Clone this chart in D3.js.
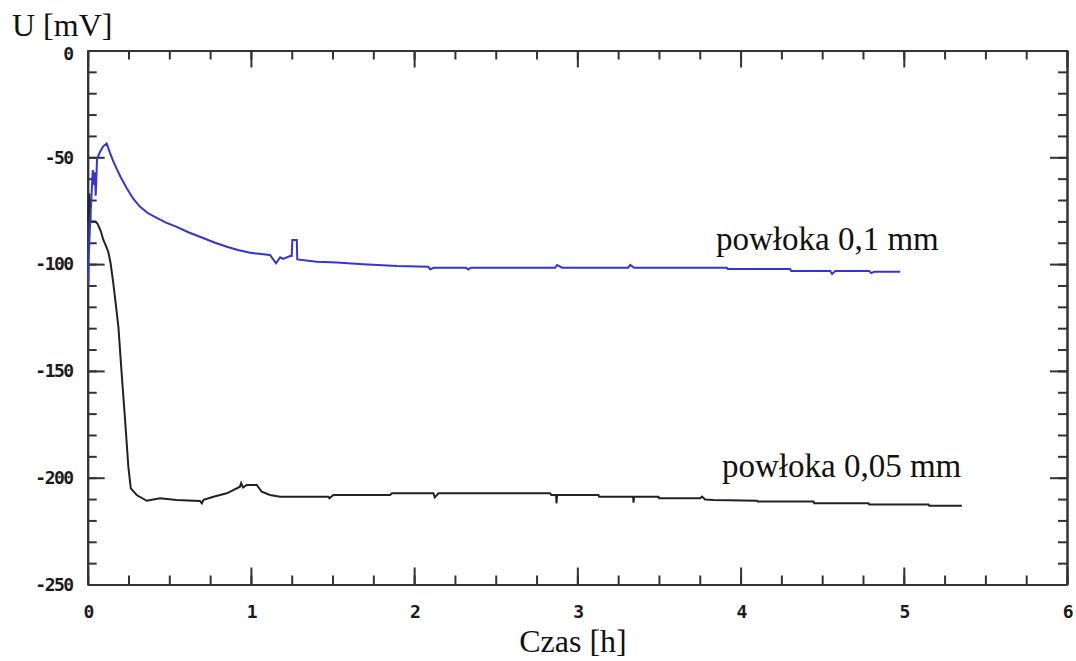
<!DOCTYPE html>
<html>
<head>
<meta charset="utf-8">
<script src="https://cdn.jsdelivr.net/npm/d3@7"></script>
<style>
    body { margin: 0; background: #fff; }
    .tick text { font-family: "DejaVu Sans Mono", monospace; font-weight: bold; font-size: 18px; letter-spacing: -1.5px; fill: #1a1a1a; }
    .axis path, .axis line { stroke: #333; stroke-width: 2px; }
    .title { font-family: "Liberation Serif", "Times New Roman", serif; font-size: 32px; fill: #111; }
</style>
</head>
<body>
<script>
// powłoka 0,1 mm : [czas h, U mV]
var coat01 = [
    [0.002, -103], [0.004, -109], [0.006, -97], [0.014, -82], [0.031, -56], [0.040, -63],
    [0.045, -57], [0.049, -68], [0.057, -51], [0.072, -48], [0.094, -45], [0.116, -43.5],
    [0.137, -48], [0.160, -52.5], [0.200, -59], [0.239, -64.5], [0.280, -69.5], [0.321, -73.2],
    [0.370, -76.2], [0.423, -78.4], [0.480, -80.6], [0.545, -82.6], [0.620, -85.2],
    [0.707, -87.8], [0.780, -90], [0.852, -91.9], [0.920, -93.4], [0.995, -94.7], [1.117, -95.7],
    [1.154, -99.6], [1.179, -96.8],
    [1.197, -97.6], [1.240, -96.2], [1.250, -96.2], [1.254, -88.7], [1.281, -88.7], [1.284, -97.8],
    [1.403, -98.9], [1.526, -99.3], [1.687, -100.1], [1.894, -100.9], [2.086, -101.2], [2.098, -102.4],
    [2.122, -101.7], [2.318, -101.7], [2.331, -102.5], [2.349, -101.7], [2.864, -101.7], [2.876, -100.4],
    [2.907, -101.7], [3.311, -101.7], [3.324, -100.4], [3.348, -101.7], [3.916, -101.7], [3.921, -102.3],
    [4.304, -102.3], [4.310, -103.2], [4.549, -103.2], [4.561, -104.6], [4.580, -103.2], [4.788, -103.2],
    [4.800, -104.2], [4.819, -103.6], [4.978, -103.6]
];

// powłoka 0,05 mm
var coat005 = [
    [0.003, -80], [0.010, -67], [0.017, -80], [0.045, -80], [0.060, -81], [0.080, -84.5],
    [0.096, -88.7], [0.112, -91.5], [0.126, -94.2], [0.140, -99.5],
    [0.157, -109], [0.188, -129.3], [0.208, -151.1], [0.229, -173], [0.249, -194.8], [0.264, -205],
    [0.300, -208.1], [0.362, -210.8], [0.443, -209.6], [0.545, -210.4], [0.688, -210.9], [0.699, -212],
    [0.710, -210.4], [0.770, -208.9], [0.852, -207.3], [0.933, -204.2], [0.940, -202.5], [0.952, -204.6],
    [0.974, -203.4], [1.036, -203.4], [1.066, -206.6], [1.117, -208.1], [1.179, -208.9], [1.475, -208.9],
    [1.481, -209.6], [1.505, -208.1], [1.853, -208.1], [1.863, -207.3], [2.118, -207.3], [2.127, -209.2],
    [2.149, -207.3], [2.833, -207.3], [2.840, -208.1], [2.870, -208.1], [2.872, -212], [2.876, -208.1],
    [3.129, -208.1], [3.133, -208.9], [3.342, -208.9], [3.344, -211.7], [3.348, -208.9], [3.497, -208.9],
    [3.501, -209.6], [3.752, -209.6], [3.764, -208.8], [3.783, -210.2], [3.834, -210.4], [4.100, -210.8],
    [4.105, -211.2], [4.447, -211.2], [4.451, -212], [4.784, -212], [4.788, -212.5], [5.152, -212.5],
    [5.156, -213.1], [5.356, -213.1]
];

var xMajor = [0, 1, 2, 3, 4, 5, 6];
var yMajor = [0, -50, -100, -150, -200, -250];
var xMinor = d3.range(0, 6.01, 0.25);
var yMinor = d3.range(0, -250.1, -10);
var seriesNames = ["powłoka 0,1 mm", "powłoka 0,05 mm"];

var width = 1076;
var height = 661;
var margin = { top: 50.5, right: 9, bottom: 76.5, left: 87.7 };

var svg = d3.select("body").append("svg")
    .attr("width", width)
    .attr("height", height);

var x = d3.scaleLinear().domain([0, 6]).range([margin.left, width - margin.right]);
var y = d3.scaleLinear().domain([-250, 0]).range([height - margin.bottom, margin.top]);

var noLabel = function() { return ""; };
var plain = function(d) { return String(d); };

// 短い目盛り（四辺すべて内向き）
svg.append("g").attr("class", "axis")
    .attr("transform", "translate(0," + y(-250) + ")")
    .call(d3.axisBottom(x).tickValues(xMinor).tickSize(-9).tickSizeOuter(0).tickFormat(noLabel));
svg.append("g").attr("class", "axis")
    .attr("transform", "translate(0," + y(0) + ")")
    .call(d3.axisTop(x).tickValues(xMinor).tickSize(-9).tickSizeOuter(0).tickFormat(noLabel));
svg.append("g").attr("class", "axis")
    .attr("transform", "translate(" + x(0) + ",0)")
    .call(d3.axisLeft(y).tickValues(yMinor).tickSize(-9).tickSizeOuter(0).tickFormat(noLabel));
svg.append("g").attr("class", "axis")
    .attr("transform", "translate(" + x(6) + ",0)")
    .call(d3.axisRight(y).tickValues(yMinor).tickSize(-9).tickSizeOuter(0).tickFormat(noLabel));

// 長い目盛りとラベル
svg.append("g").attr("class", "axis")
    .attr("transform", "translate(0," + y(-250) + ")")
    .call(d3.axisBottom(x).tickValues(xMajor).tickSize(-17).tickSizeOuter(0).tickPadding(21).tickFormat(plain));
svg.append("g").attr("class", "axis")
    .attr("transform", "translate(0," + y(0) + ")")
    .call(d3.axisTop(x).tickValues(xMajor).tickSize(-17).tickSizeOuter(0).tickFormat(noLabel));
var yAxisG = svg.append("g").attr("class", "axis")
    .attr("transform", "translate(" + x(0) + ",0)")
    .call(d3.axisLeft(y).tickValues(yMajor).tickSize(-17).tickSizeOuter(0).tickPadding(15).tickFormat(plain));
svg.append("g").attr("class", "axis")
    .attr("transform", "translate(" + x(6) + ",0)")
    .call(d3.axisRight(y).tickValues(yMajor).tickSize(-17).tickSizeOuter(0).tickFormat(noLabel));

// 0 のラベルは少し下げる
yAxisG.selectAll(".tick text").filter(function(d) { return d === 0; }).attr("dy", "0.5em");

var line = d3.line()
    .x(function(d) { return x(d[0]); })
    .y(function(d) { return y(d[1]); });

svg.append("path")
    .datum(coat005)
    .attr("d", line)
    .style("fill", "none")
    .style("stroke", "#222")
    .style("stroke-width", "2px");

svg.append("path")
    .datum(coat01)
    .attr("d", line)
    .style("fill", "none")
    .style("stroke", "#3434d6")
    .style("stroke-width", "2px");

// 軸タイトル
svg.append("text").attr("class", "title")
    .attr("x", 12).attr("y", 36)
    .text("U [mV]");
svg.append("text").attr("class", "title")
    .attr("x", 573).attr("y", 652)
    .attr("text-anchor", "middle")
    .text("Czas [h]");

// 曲線ラベル
svg.append("text").attr("class", "title")
    .attr("x", 716).attr("y", 250)
    .style("font-size", "33px")
    .text(seriesNames[0]);
svg.append("text").attr("class", "title")
    .attr("x", 722).attr("y", 477)
    .style("font-size", "33px")
    .text(seriesNames[1]);
</script>
</body>
</html>
